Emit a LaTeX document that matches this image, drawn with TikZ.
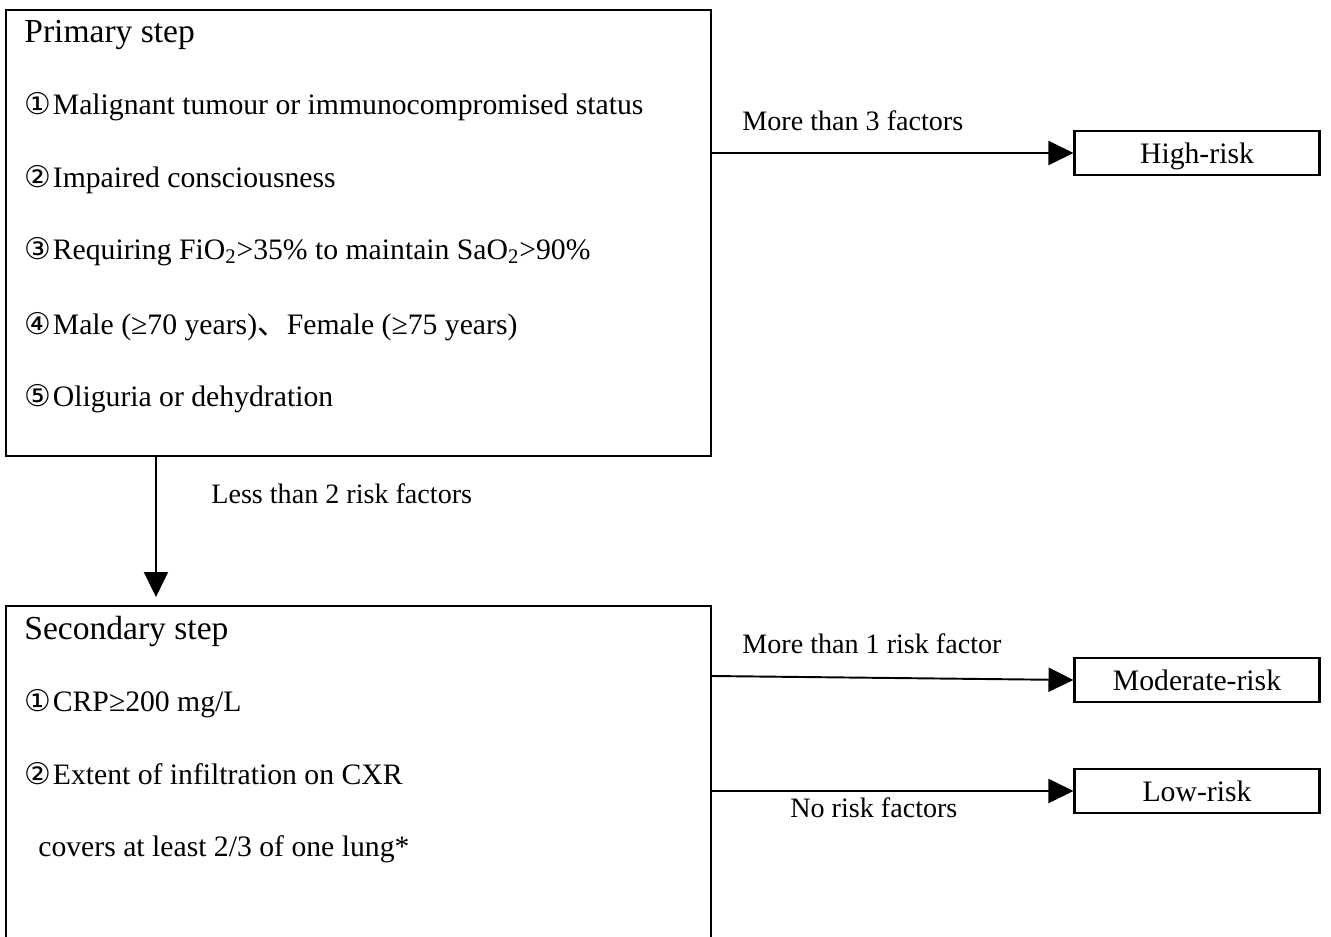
\documentclass[tikz,border=0pt]{standalone}
\usepackage{fontspec}
\setmainfont{Liberation Serif}
\newfontfamily\circfont{DejaVu Sans}
\newfontfamily\cjkfont{Noto Sans CJK SC}
\usetikzlibrary{arrows.meta,positioning}
\newcommand{\cnum}[1]{{\circfont\fontsize{17}{20}\selectfont #1\kern1pt}}
\tikzset{
  bigbox/.style={rectangle,draw,line width=1.2pt,anchor=north west,inner sep=0pt,minimum width=14.1cm},
  rbox/.style={rectangle,draw,line width=1.2pt,minimum width=4.9cm,minimum height=0.88cm,inner sep=0pt,text height=12pt,text depth=0pt,font=\fontsize{16.9}{20}\selectfont},
  head/.style={anchor=base west,inner sep=0pt,font=\fontsize{19.1}{22}\selectfont},
  item/.style={anchor=base west,inner sep=0pt,font=\fontsize{16.9}{20}\selectfont},
  lab/.style={anchor=base west,inner sep=0pt,font=\fontsize{16}{19}\selectfont},
  de/.style={-{Triangle[length=0.5cm,width=0.48cm]},line width=1.1pt}
}

\begin{document}
\begin{tikzpicture}[x=0.02cm,y=-0.02cm]
\useasboundingbox (0,0) rectangle (1331,936);
% the two step boxes
\node[bigbox,minimum height=8.92cm] (P) at (5,9) {};
\node[bigbox,minimum height=7.1cm] (S) at (5,605) {};
% result boxes
\node[rbox] (H) at (1197,153) {High-risk};
\node[rbox] (M) at (1197,680) {Moderate-risk};
\node[rbox] (L) at (1197,791) {Low-risk};
% primary step
\node[head] (p0) at (24,43) {Primary step};
\node[item] (p1) at (24,114) {\cnum{①}Malignant tumour or immunocompromised status};
\node[item] (p2) at (24,187) {\cnum{②}Impaired consciousness};
\node[item] (p3) at (24,259) {\cnum{③}Requiring FiO\textsubscript{2}>35\% to maintain SaO\textsubscript{2}>90\%};
\node[item] (p4) at (24,334) {\cnum{④}Male (≥70 years){\cjkfont 、}Female (≥75 years)};
\node[item] (p5) at (24,406) {\cnum{⑤}Oliguria or dehydration};
% secondary step
\node[head] (s0) at (24,639) {Secondary step};
\node[item] (s1) at (24,711) {\cnum{①}CRP≥200 mg/L};
\node[item] (s2) at (24,784) {\cnum{②}Extent of infiltration on CXR};
\node[item] (s3) at (38,856) {covers at least 2/3 of one lung*};
% labels
\node[lab] (l1) at (742,131) {More than 3 factors};
\node[lab] (l2) at (211,503) {Less than 2 risk factors};
\node[lab] (l3) at (742,653) {More than 1 risk factor};
\node[lab] (l4) at (790,817) {No risk factors};
% arrows
\draw[de] (P.east |- H.west) -- (H.west);
\draw[de,shorten >=0.16cm] ([xshift=3.02cm]P.south west) -- ([xshift=3.02cm]S.north west);
\draw[de] ([yshift=0.08cm]S.east |- M.west) -- (M.west);
\draw[de] (S.east |- L.west) -- (L.west);
\end{tikzpicture}
\end{document}
